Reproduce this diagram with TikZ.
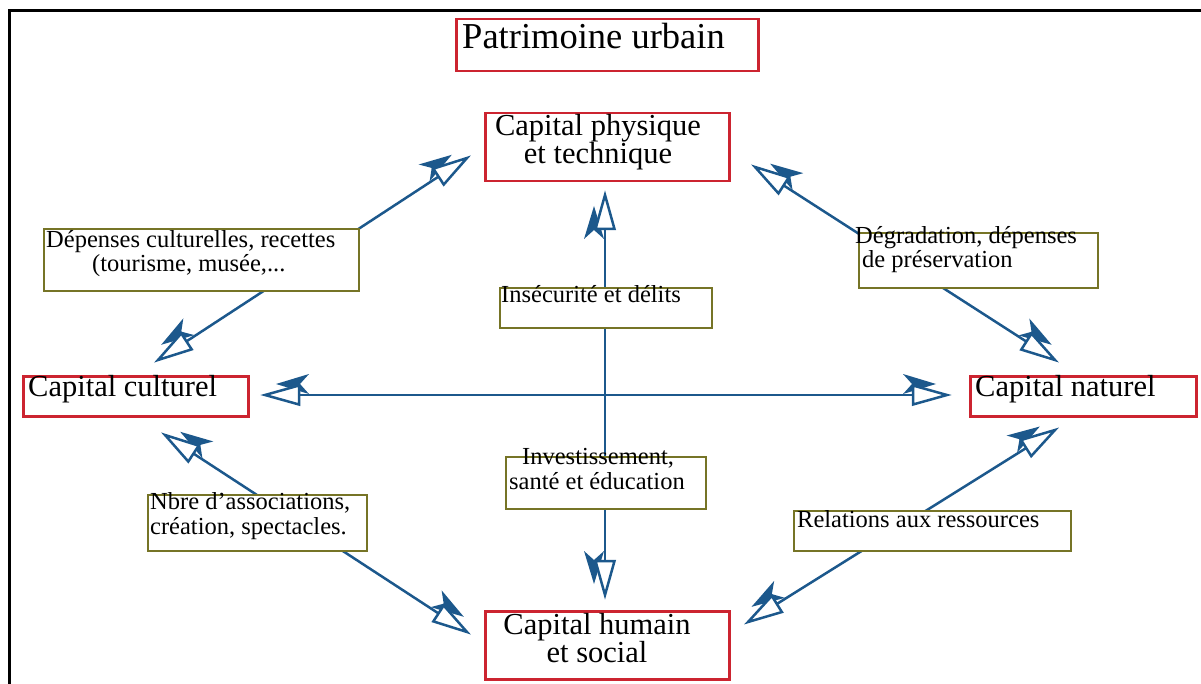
\documentclass[tikz,border=0pt]{standalone}
\usepackage{fontspec}
\setmainfont{Liberation Serif}
\definecolor{cblue}{RGB}{28,88,140}
\definecolor{cred}{RGB}{204,36,48}
\definecolor{colive}{RGB}{118,116,38}
\pgfdeclarearrow{
  name=DblL,
  setup code={
    \pgfarrowssettipend{0pt}
    \pgfarrowssetlineend{-32pt}
    \pgfarrowssetbackend{-44pt}
    \pgfarrowssetvisualbackend{-44pt}
    \pgfarrowshullpoint{0pt}{0pt}
    \pgfarrowshullpoint{-44pt}{22pt}
    \pgfarrowshullpoint{-44pt}{-10pt}
  },
  drawing code={
    \pgfsetmiterjoin
    \pgfsetfillcolor{cblue}
    \pgfpathmoveto{\pgfqpoint{-11pt}{11pt}}
    \pgfpathlineto{\pgfqpoint{-44pt}{21pt}}
    \pgfpathlineto{\pgfqpoint{-35pt}{11pt}}
    \pgfpathlineto{\pgfqpoint{-44pt}{1pt}}
    \pgfpathclose
    \pgfusepathqfill
    \pgfsetfillcolor{white}
    \pgfpathmoveto{\pgfqpoint{0pt}{0pt}}
    \pgfpathlineto{\pgfqpoint{-34pt}{9.5pt}}
    \pgfpathlineto{\pgfqpoint{-34pt}{-9.5pt}}
    \pgfpathclose
    \pgfusepathqfillstroke
  }
}
\pgfdeclarearrow{
  name=DblR,
  setup code={
    \pgfarrowssettipend{0pt}
    \pgfarrowssetlineend{-32pt}
    \pgfarrowssetbackend{-44pt}
    \pgfarrowssetvisualbackend{-44pt}
    \pgfarrowshullpoint{0pt}{0pt}
    \pgfarrowshullpoint{-44pt}{-22pt}
    \pgfarrowshullpoint{-44pt}{10pt}
  },
  drawing code={
    \pgfsetmiterjoin
    \pgfsetfillcolor{cblue}
    \pgfpathmoveto{\pgfqpoint{-11pt}{-11pt}}
    \pgfpathlineto{\pgfqpoint{-44pt}{-21pt}}
    \pgfpathlineto{\pgfqpoint{-35pt}{-11pt}}
    \pgfpathlineto{\pgfqpoint{-44pt}{-1pt}}
    \pgfpathclose
    \pgfusepathqfill
    \pgfsetfillcolor{white}
    \pgfpathmoveto{\pgfqpoint{0pt}{0pt}}
    \pgfpathlineto{\pgfqpoint{-34pt}{-9.5pt}}
    \pgfpathlineto{\pgfqpoint{-34pt}{9.5pt}}
    \pgfpathclose
    \pgfusepathqfillstroke
  }
}
\tikzset{
  redbox/.style={draw=cred, line width=2.5pt, fill=white, inner sep=0pt, anchor=north west},
  olivebox/.style={draw=colive, line width=2pt, fill=white, inner sep=0pt, anchor=north west},
  conn/.style={draw=cblue, line width=2.5pt},
  bigtxt/.style={inner sep=0pt, font=\fontsize{30.5}{34}\selectfont},
  titletxt/.style={inner sep=0pt, font=\fontsize{36.5}{40}\selectfont},
  smalltxt/.style={inner sep=0pt, font=\fontsize{24.5}{28}\selectfont},
}
\begin{document}
\begin{tikzpicture}[x=1pt,y=-1pt]
\useasboundingbox (0,0) rectangle (1201,684);
% frame
\draw[line width=3pt, line cap=rect] (9,684) -- (9,11) -- (1201,11);
% connector end points
\coordinate (c1a) at (158,360);  \coordinate (c1b) at (467,158);
\coordinate (c2a) at (755,167);  \coordinate (c2b) at (1055,360);
\coordinate (c3a) at (265,395);  \coordinate (c3b) at (947,395);
\coordinate (c4a) at (605,195);  \coordinate (c4b) at (605,595);
\coordinate (c5a) at (165,435);  \coordinate (c5b) at (467,632);
\coordinate (c6a) at (748,622);  \coordinate (c6b) at (1055,430);
\draw[conn, {DblR}-{DblL}] (c1a) -- (c1b);
\draw[conn, {DblR}-{DblL}] (c2a) -- (c2b);
\draw[conn, {DblR}-{DblL}] (c3a) -- (c3b);
\draw[conn, {DblL}-{DblR}] (c4a) -- (c4b);
\draw[conn, {DblR}-{DblL}] (c5a) -- (c5b);
\draw[conn, {DblR}-{DblL}] (c6a) -- (c6b);
% red boxes
\node[redbox, minimum width=302pt, minimum height=52pt] (patr) at (455,18) {};
\node[redbox, minimum width=244pt, minimum height=68pt] (phys) at (484,112) {};
\node[redbox, minimum width=225pt, minimum height=40pt] (cult) at (22,375) {};
\node[redbox, minimum width=226pt, minimum height=40pt] (nat) at (969,375) {};
\node[redbox, minimum width=244pt, minimum height=68pt] (hum) at (484,610) {};
% olive boxes
\node[olivebox, minimum width=315pt, minimum height=62pt] (dep) at (43,228) {};
\node[olivebox, minimum width=239pt, minimum height=55pt] (deg) at (858,232) {};
\node[olivebox, minimum width=212pt, minimum height=40pt] (ins) at (499,287) {};
\node[olivebox, minimum width=200pt, minimum height=52pt] (inv) at (505,456) {};
\node[olivebox, minimum width=219pt, minimum height=56pt] (nbre) at (147,494) {};
\node[olivebox, minimum width=277pt, minimum height=40pt] (rel) at (793,510) {};
% texts
\node[titletxt, anchor=base west] (patrt) at (462,49) {Patrimoine urbain};
\node[bigtxt, anchor=base] (phys1) at (598,136) {Capital physique};
\node[bigtxt, anchor=base] (phys2) at (598,164) {et technique};
\node[bigtxt, anchor=base west] (cultt) at (28,396) {Capital culturel};
\node[bigtxt, anchor=base west] (natt) at (975,396) {Capital naturel};
\node[bigtxt, anchor=base] (hum1) at (597,634) {Capital humain};
\node[bigtxt, anchor=base] (hum2) at (597,662) {et social};
\node[smalltxt, anchor=base west] (dep1) at (46,248) {Dépenses culturelles, recettes};
\node[smalltxt, anchor=base west] (dep2) at (92,272) {(tourisme, musée,...};
\node[smalltxt, anchor=base west] (deg1) at (855,244) {Dégradation, dépenses};
\node[smalltxt, anchor=base west] (deg2) at (862,268) {de préservation};
\node[smalltxt, anchor=base west] (inst) at (501,302) {Insécurité et délits};
\node[smalltxt, anchor=base west] (inv1) at (522,464) {Investissement,};
\node[smalltxt, anchor=base west] (inv2) at (509,489) {santé et éducation};
\node[smalltxt, anchor=base west] (nbre1) at (150,509) {Nbre d'associations,};
\node[smalltxt, anchor=base west] (nbre2) at (150,534) {création, spectacles.};
\node[smalltxt, anchor=base west] (relt) at (797,527) {Relations aux ressources};
\end{tikzpicture}
\end{document}
